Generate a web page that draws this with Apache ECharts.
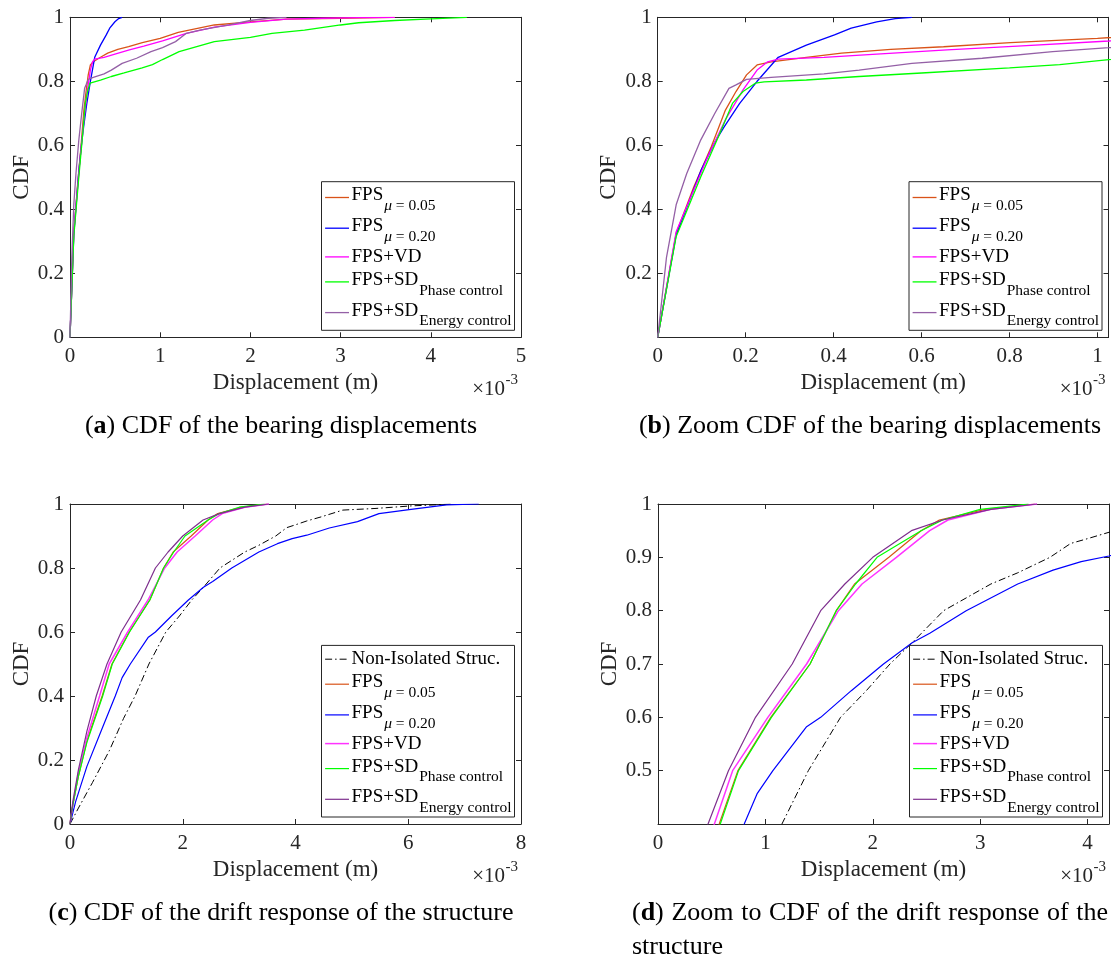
<!DOCTYPE html>
<html>
<head>
<meta charset="utf-8">
<script src="https://cdn.jsdelivr.net/npm/echarts@6/dist/echarts.min.js"></script>
<style>
html, body { margin: 0; padding: 0; background: #ffffff; }
#chart { width: 1111px; height: 958px; }
</style>
</head>
<body>
<div id="chart"></div>
<script>
// ---- Bearing displacement CDFs (displacement in 10^-3 m, CDF 0..1) ----
const bearingFps005 = [[0,0],[0.042,0.325],[0.082,0.47],[0.122,0.596],[0.154,0.71],[0.178,0.768],[0.202,0.82],[0.226,0.851],[0.258,0.861],[0.338,0.875],[0.418,0.888],[0.53,0.9],[0.65,0.908],[0.802,0.921],[1.0,0.934],[1.2,0.953],[1.6,0.976],[2.0,0.986],[2.4,0.994],[3.0,0.997],[3.6,1.0]];
const bearingFps020 = [[0,0],[0.042,0.32],[0.098,0.52],[0.13,0.61],[0.15,0.655],[0.186,0.73],[0.226,0.8],[0.274,0.875],[0.338,0.913],[0.402,0.945],[0.44,0.966],[0.498,0.986],[0.54,0.996],[0.578,1.0]];
const bearingFpsVd = [[0,0],[0.042,0.33],[0.114,0.565],[0.154,0.68],[0.194,0.773],[0.226,0.835],[0.25,0.861],[0.274,0.869],[0.378,0.875],[0.498,0.885],[0.658,0.898],[0.818,0.91],[1.026,0.926],[1.29,0.95],[1.6,0.969],[2.0,0.984],[2.4,0.994],[2.8,0.997],[3.2,0.999],[3.6,1.0]];
const bearingFpsSdPhase = [[0,0],[0.042,0.315],[0.098,0.502],[0.138,0.627],[0.17,0.731],[0.194,0.768],[0.222,0.794],[0.242,0.798],[0.338,0.804],[0.458,0.815],[0.6,0.826],[0.8,0.842],[0.914,0.852],[1.026,0.868],[1.21,0.893],[1.6,0.924],[2.0,0.9375],[2.24,0.95],[2.6,0.96],[3.0,0.976],[3.2,0.983],[3.6,0.99],[4.0,0.995],[4.4,1.0]];
const bearingFpsSdEnergy = [[0,0],[0.02,0.25],[0.042,0.414],[0.066,0.512],[0.098,0.617],[0.13,0.7],[0.162,0.778],[0.178,0.789],[0.202,0.806],[0.258,0.8125],[0.378,0.823],[0.458,0.835],[0.578,0.856],[0.738,0.872],[0.898,0.893],[1.026,0.905],[1.17,0.924],[1.29,0.95],[1.44,0.96],[1.76,0.976],[2.0,0.99],[2.2,0.997],[2.4,1.0]];

// ---- Structural drift CDFs (drift in 10^-3 m, CDF 0..1) ----
const driftNonIsolated = [[0,0],[0.15,0.05],[0.4,0.13],[0.7,0.23],[0.95,0.33],[1.154,0.4],[1.4,0.5],[1.7,0.6],[1.94,0.65],[2.16,0.7],[2.367,0.74],[2.66,0.8],[3.1,0.85],[3.35,0.871],[3.65,0.9],[3.843,0.926],[4.0,0.935],[4.2,0.947],[4.46,0.96],[4.84,0.981],[5.41,0.986],[6.05,0.994],[6.8,1.0]];
const driftFps005 = [[0,0],[0.05,0.06],[0.15,0.15],[0.3,0.26],[0.57,0.4],[0.744,0.5],[1.05,0.6],[1.416,0.7],[1.66,0.8],[1.83,0.85],[2.15,0.9],[2.45,0.95],[2.62,0.97],[3.05,0.99],[3.51,1.0]];
const driftFps020 = [[0,0],[0.1,0.07],[0.3,0.18],[0.55,0.29],[0.803,0.4],[0.925,0.4575],[1.07,0.5],[1.384,0.5825],[1.515,0.6],[1.8,0.65],[2.1,0.7],[2.367,0.74],[2.531,0.7575],[2.87,0.8],[3.35,0.85],[3.679,0.876],[3.941,0.892],[4.2,0.9025],[4.6,0.925],[5.1,0.945],[5.48,0.97],[6.05,0.983],[6.68,0.997],[7.25,1.0]];
const driftFpsVd = [[0,0],[0.05,0.06],[0.15,0.16],[0.3,0.27],[0.525,0.4],[0.695,0.5],[1.023,0.6],[1.384,0.7],[1.68,0.8],[1.9,0.85],[2.22,0.9],[2.53,0.95],[2.7,0.97],[3.1,0.99],[3.53,1.0]];
const driftFpsSdPhase = [[0,0],[0.05,0.06],[0.15,0.15],[0.3,0.255],[0.58,0.4],[0.75,0.5],[1.056,0.6],[1.416,0.7],[1.66,0.8],[1.84,0.85],[2.04,0.9],[2.45,0.95],[2.65,0.97],[3.0,0.99],[3.45,1.0]];
const driftFpsSdEnergy = [[0,0],[0.05,0.07],[0.15,0.17],[0.3,0.29],[0.466,0.4],[0.656,0.5],[0.908,0.6],[1.25,0.7],[1.515,0.8],[1.74,0.85],[2.0,0.9],[2.36,0.95],[2.65,0.97],[3.1,0.99],[3.53,1.0]];

// ---- Tick labels ----
const ticksBearingX = [0, 1, 2, 3, 4, 5];
const ticksBearingZoomX = [0, 0.2, 0.4, 0.6, 0.8, 1];
const ticksDriftX = [0, 2, 4, 6, 8];
const ticksDriftZoomX = [0, 1, 2, 3, 4];
const ticksCdfY = [0, 0.2, 0.4, 0.6, 0.8, 1];
const ticksCdfZoomY = [0.2, 0.4, 0.6, 0.8, 1];
const ticksCdfDriftZoomY = [0.5, 0.6, 0.7, 0.8, 0.9, 1];

// ---- Captions ----
const captionA = ['a', ' CDF of the bearing displacements'];
const captionB = ['b', ' Zoom CDF of the bearing displacements'];
const captionC = ['c', ' CDF of the drift response of the structure'];
const captionD = ['d', ' Zoom to CDF of the drift response of the', 'structure'];

const FONT = "'Liberation Serif', 'Times New Roman', serif";
const AXIS = '#262626';
const CAP_SIZE = 26;

// Curve styles
const STY = {
  noniso: { label: 'Non-Isolated Struc.', sub: null, color: '#000000', width: 1, dash: [7, 3, 1.5, 3] },
  fps005: { label: 'FPS', sub: '0.05', color: '#D95319', width: 1.3 },
  fps020: { label: 'FPS', sub: '0.20', color: '#0000FF', width: 1.3 },
  vd: { label: 'FPS+VD', sub: null, color: '#FF00FF', width: 1.3 },
  phase: { label: 'FPS+SD', sub: 'Phase control', color: '#00FF00', width: 1.3 },
  energy: { label: 'FPS+SD', sub: 'Energy control', color: '#9460A6', width: 1.3 }
};
const STY_DRIFT = Object.assign({}, STY, {
  fps005: Object.assign({}, STY.fps005, { width: 1.2 }),
  fps020: Object.assign({}, STY.fps020, { width: 1.2 }),
  phase: Object.assign({}, STY.phase, { width: 1.2 }),
  vd: Object.assign({}, STY.vd, { color: '#FF33FF', width: 1.5 }),
  energy: Object.assign({}, STY.energy, { color: '#7E2F8E', width: 1.2 })
});

const bearingSet = [['fps005', bearingFps005], ['fps020', bearingFps020], ['vd', bearingFpsVd], ['phase', bearingFpsSdPhase], ['energy', bearingFpsSdEnergy]];
const driftSet = [['noniso', driftNonIsolated], ['fps005', driftFps005], ['fps020', driftFps020], ['vd', driftFpsVd], ['phase', driftFpsSdPhase], ['energy', driftFpsSdEnergy]];

const panels = [
  { rect: { left: 70, top: 17.3, width: 451, height: 320 }, x: [0, 5, 1], xt: ticksBearingX, y: [0, 1, 0.2], yt: ticksCdfY, set: bearingSet, sty: STY, cap: captionA, capX: 281, capY: 426, capAlign: 'center' },
  { rect: { left: 657.7, top: 17.3, width: 450.8, height: 320 }, x: [0, 1.025, 0.2], xt: ticksBearingZoomX, y: [0, 1, 0.2], yt: ticksCdfZoomY, set: bearingSet, sty: STY, cap: captionB, capX: 870, capY: 426, capAlign: 'center' },
  { rect: { left: 70, top: 504, width: 451, height: 320 }, x: [0, 8, 2], xt: ticksDriftX, y: [0, 1, 0.2], yt: ticksCdfY, set: driftSet, sty: STY_DRIFT, cap: captionC, capX: 281, capY: 913, capAlign: 'center' },
  { rect: { left: 658, top: 504, width: 451, height: 320 }, x: [0, 4.2, 1], xt: ticksDriftZoomX, y: [0.4, 1, 0.1], yt: ticksCdfDriftZoomY, set: driftSet, sty: STY_DRIFT, cap: captionD, capX: 632, capY: 913, capAlign: 'justify', capWidth: 476 }
];

const measureCtx = document.createElement('canvas').getContext('2d');
function textWidth(str, size, weight) {
  measureCtx.font = (weight || 'normal') + ' ' + size + 'px ' + FONT;
  return measureCtx.measureText(str).width;
}

function tickFormatter(list) {
  return function (v) {
    for (const t of list) {
      if (Math.abs(v - t) < 1e-6) return String(Math.round(t * 1000) / 1000);
    }
    return '';
  };
}

const capRich = {
  r: { fontFamily: FONT, fontSize: CAP_SIZE, fill: '#000000' },
  b: { fontFamily: FONT, fontSize: CAP_SIZE, fontWeight: 'bold', fill: '#000000' }
};

const grids = [], xAxes = [], yAxes = [], series = [], graphics = [];

panels.forEach((p, i) => {
  grids.push(Object.assign({ show: false, outerBoundsMode: 'none' }, p.rect));
  const common = {
    type: 'value', gridIndex: i,
    axisLine: { show: true, onZero: false, lineStyle: { color: AXIS, width: 1 } },
    axisTick: { show: true, inside: true, length: 5, lineStyle: { color: AXIS, width: 1 } },
    splitLine: { show: false }
  };
  const xr = { min: p.x[0], max: p.x[1], interval: p.x[2] };
  const yr = { min: p.y[0], max: p.y[1], interval: p.y[2] };
  xAxes.push(Object.assign({}, common, xr, {
    position: 'bottom',
    name: 'Displacement (m)', nameLocation: 'middle', nameGap: 34,
    nameTextStyle: { fontFamily: FONT, fontSize: 23, color: AXIS },
    axisLabel: { show: true, margin: 9, fontFamily: FONT, fontSize: 21, color: AXIS, showMinLabel: true, showMaxLabel: true, formatter: tickFormatter(p.xt) }
  }));
  xAxes.push(Object.assign({}, common, xr, { position: 'top', axisLabel: { show: false } }));
  yAxes.push(Object.assign({}, common, yr, {
    position: 'left',
    name: 'CDF', nameLocation: 'middle', nameGap: 37,
    nameTextStyle: { fontFamily: FONT, fontSize: 23, color: AXIS },
    axisLabel: { show: true, margin: 6, fontFamily: FONT, fontSize: 21, color: AXIS, showMinLabel: true, showMaxLabel: true, formatter: tickFormatter(p.yt) }
  }));
  yAxes.push(Object.assign({}, common, yr, { position: 'right', axisLabel: { show: false } }));

  p.set.forEach(([key, data]) => {
    const s = p.sty[key];
    series.push({
      type: 'line', xAxisIndex: 2 * i, yAxisIndex: 2 * i, data: data,
      showSymbol: false, symbol: 'none', clip: true, silent: true, animation: false,
      lineStyle: { color: s.color, width: s.width, type: s.dash || 'solid' },
      itemStyle: { color: s.color }, z: 2
    });
  });

  // Legend box
  const gr = p.rect;
  const gRight = gr.left + gr.width, gBottom = gr.top + gr.height;
  const boxW = 193;
  const boxRight = gRight - 6.5, boxLeft = boxRight - boxW;
  const rows = [];
  let ry = 13.8;
  p.set.forEach(([key], k) => {
    if (k > 0) ry += p.sty[p.set[k - 1][0]].sub ? 30.7 : 23;
    rows.push(ry);
  });
  const boxH = rows[rows.length - 1] + 19.7;
  const boxTop = gBottom - 7 - boxH;
  graphics.push({ type: 'rect', z: 100, shape: { x: boxLeft, y: boxTop, width: boxW, height: boxH }, style: { fill: '#ffffff', stroke: AXIS, lineWidth: 1 } });
  p.set.forEach(([key], k) => {
    const s = p.sty[key];
    const cy = boxTop + rows[k];
    const ly = cy + (s.sub ? 2 : 0);
    graphics.push({ type: 'line', z: 101, shape: { x1: boxLeft + 3.6, y1: ly, x2: boxLeft + 27.5, y2: ly }, style: { stroke: s.color, lineWidth: s.width, lineDash: s.dash || null } });
    const tx = boxLeft + 30;
    graphics.push({ type: 'text', z: 101, x: tx, y: cy, style: { text: s.label, fontFamily: FONT, fontSize: 19, fill: '#000000', align: 'left', verticalAlign: 'middle' } });
    if (s.sub) {
      const sx = tx + textWidth(s.label, 19) + 1;
      const isMu = /^[0-9.]+$/.test(s.sub);
      graphics.push({ type: 'text', z: 101, x: sx, y: cy + 10.7, style: {
        text: isMu ? '{i|μ} = ' + s.sub : s.sub,
        rich: { i: { fontStyle: 'italic', fontFamily: FONT, fontSize: 15.5, fill: '#000000' } },
        fontFamily: FONT, fontSize: 15.5, fill: '#000000', align: 'left', verticalAlign: 'middle' } });
    }
  });

  // Exponent of the displacement axis
  graphics.push({ type: 'text', z: 101, x: gRight - 16, y: gBottom + 52, style: { text: '×10', fontFamily: FONT, fontSize: 21, fill: AXIS, align: 'right', verticalAlign: 'middle' } });
  graphics.push({ type: 'text', z: 101, x: gRight - 15.5, y: gBottom + 43, style: { text: '-3', fontFamily: FONT, fontSize: 15, fill: AXIS, align: 'left', verticalAlign: 'middle' } });

  // Sub-figure caption
  if (p.capAlign === 'justify') {
    // first line set justified word by word across the caption width
    const words = p.cap[1].trim().split(/\s+/);
    const headW = textWidth('(', CAP_SIZE) + textWidth(p.cap[0], CAP_SIZE, 'bold') + textWidth(')', CAP_SIZE);
    const widths = words.map(w => textWidth(w, CAP_SIZE));
    const total = headW + widths.reduce((a, b) => a + b, 0);
    const gap = (p.capWidth - total) / words.length;
    graphics.push({ type: 'text', z: 101, x: p.capX, y: p.capY, style: {
      text: '{r|(}{b|' + p.cap[0] + '}{r|)}', rich: capRich, align: 'left', verticalAlign: 'middle' } });
    let cx = p.capX + headW + gap;
    words.forEach((w, k) => {
      graphics.push({ type: 'text', z: 101, x: cx, y: p.capY, style: { text: w, fontFamily: FONT, fontSize: CAP_SIZE, fill: '#000000', align: 'left', verticalAlign: 'middle' } });
      cx += widths[k] + gap;
    });
    graphics.push({ type: 'text', z: 101, x: p.capX, y: p.capY + 34, style: { text: p.cap[2], fontFamily: FONT, fontSize: CAP_SIZE, fill: '#000000', align: 'left', verticalAlign: 'middle' } });
  } else {
    graphics.push({ type: 'text', z: 101, x: p.capX, y: p.capY, style: {
      text: '{r|(}{b|' + p.cap[0] + '}{r|)' + p.cap[1] + '}', rich: capRich,
      align: p.capAlign, verticalAlign: 'middle' } });
  }
});

const chart = echarts.init(document.getElementById('chart'), null, { renderer: 'canvas' });
chart.setOption({
  backgroundColor: '#ffffff',
  animation: false,
  grid: grids,
  xAxis: xAxes,
  yAxis: yAxes,
  series: series,
  graphic: { elements: graphics }
});
</script>
</body>
</html>
